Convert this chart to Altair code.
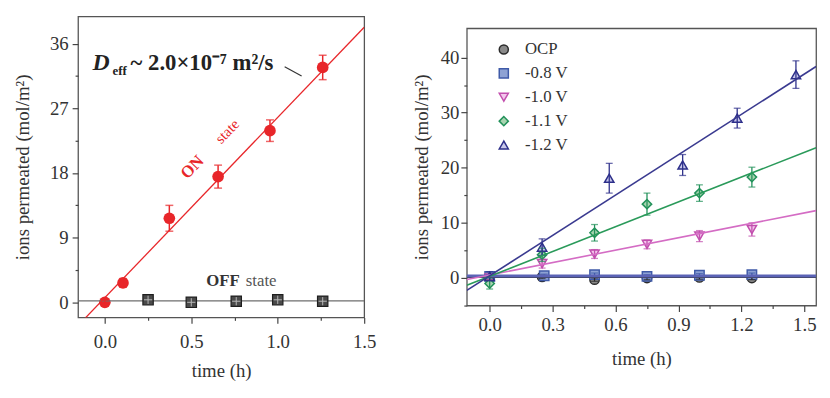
import altair as alt
import pandas as pd

FONT = "Liberation Serif"

# ---------------- left panel data ----------------
on_t = [0.0, 0.105, 0.373, 0.655, 0.955, 1.26]
on_y = [0.0, 2.7, 11.7, 17.5, 23.9, 32.7]
on_err = [0.3, 0.6, 1.8, 1.6, 1.5, 1.7]
off_t = [0.25, 0.5, 0.76, 1.0, 1.26]
off_y = [0.35, 0.0, 0.15, 0.35, 0.15]
on_fit = (25.1, 0.65)     # slope, intercept
off_fit = (0.0, 0.2)
left_x_domain = [-0.155, 1.5]
left_y_domain = [-2.1, 39.8]
left_x_step = 0.5
left_x_ticks = [0.0, 0.25, 0.5, 0.75, 1.0, 1.25, 1.5]
left_y_step = 9
left_y_ticks = [0, 4.5, 9, 13.5, 18, 22.5, 27, 31.5, 36]

# ---------------- right panel data ----------------
series = ["OCP", "-0.8 V", "-1.0 V", "-1.1 V", "-1.2 V"]
s_t = {
    "OCP": [0.0, 0.25, 0.5, 0.75, 1.0, 1.25],
    "-0.8 V": [0.0, 0.26, 0.5, 0.75, 1.0, 1.25],
    "-1.0 V": [0.0, 0.25, 0.5, 0.75, 1.0, 1.25],
    "-1.1 V": [0.0, 0.25, 0.5, 0.75, 1.0, 1.25],
    "-1.2 V": [0.0, 0.25, 0.57, 0.92, 1.18, 1.46],
}
s_y = {
    "OCP": [0.0, 0.2, -0.3, 0.0, 0.1, 0.0],
    "-0.8 V": [0.3, 0.4, 0.6, 0.3, 0.5, 0.6],
    "-1.0 V": [0.0, 2.6, 4.35, 6.1, 7.6, 8.8],
    "-1.1 V": [-1.0, 4.2, 8.2, 13.4, 15.4, 18.3],
    "-1.2 V": [0.3, 5.6, 18.1, 20.5, 29.0, 36.9],
}
s_err = {
    "OCP": [0.3, 0.3, 0.3, 0.3, 0.3, 0.3],
    "-0.8 V": [0.3, 0.3, 0.3, 0.3, 0.3, 0.3],
    "-1.0 V": [0.3, 0.8, 0.8, 0.8, 1.0, 1.2],
    "-1.1 V": [1.0, 1.2, 1.5, 2.0, 1.5, 1.8],
    "-1.2 V": [0.8, 1.5, 2.7, 1.9, 1.8, 2.5],
}
s_fit = {
    "OCP": (0.0, 0.2),
    "-0.8 V": (0.0, 0.35),
    "-1.0 V": (7.5, 0.55),
    "-1.1 V": (15.0, 0.3),
    "-1.2 V": (24.4, 0.4),
}
s_shape = ["circle", "square", "triangle-down", "diamond", "triangle-up"]
s_fill = ["#8a8a8a", "#8ea2d4", "#f3c6ec", "#a8d4b0", "#c8c8ea"]
s_stroke = ["#2b2b2b", "#3f5aa8", "#c24fae", "#22915a", "#2d2f8a"]
s_line = ["#333333", "#5b63b6", "#d46cc4", "#2a9a5a", "#3a3a90"]
s_line_w = [2, 3, 1.6, 1.6, 1.6]
right_x_domain = [-0.109, 1.556]
right_y_domain = [-5, 45.3]
right_x_step = 0.3
right_x_ticks = [0.0, 0.15, 0.3, 0.45, 0.6, 0.75, 0.9, 1.05, 1.2, 1.35, 1.5]
right_y_step = 10
right_y_ticks = [-5.0, 0.0, 5.0, 10.0, 15.0, 20.0, 25.0, 30.0, 35.0, 40.0]

RED = "#e8262a"
Y_TITLE = "ions permeated (mol/m²)"
X_TITLE = "time (h)"


def axis(values, step, fmt, title, label_pad, title_pad):
    test = f"abs(datum.value/{step} - round(datum.value/{step})) < 0.000001"
    return alt.Axis(
        values=values,
        labelExpr=f"({test}) ? format(datum.value, '{fmt}') : ''",
        tickSize={"condition": {"test": test, "value": 6}, "value": 3},
        title=title,
        grid=False,
        domain=False,
        labelFlush=False,
        labelOverlap=False,
        labelPadding=label_pad,
        titlePadding=title_pad,
        labelFont=FONT, titleFont=FONT, labelFontSize=19, titleFontSize=19,
        labelColor="#333", titleColor="#333", tickColor="#444", tickWidth=1.2,
        titleFontWeight="normal",
    )


# ---------------- left panel ----------------
on_df = pd.DataFrame({"t": on_t, "y": on_y, "e": on_err})
on_df["lo"] = on_df["y"] - on_df["e"]
on_df["hi"] = on_df["y"] + on_df["e"]
off_df = pd.DataFrame({"t": off_t, "y": off_y})
fitL = pd.DataFrame({"t": left_x_domain})

lx = alt.Scale(domain=left_x_domain, nice=False, zero=False)
ly = alt.Scale(domain=left_y_domain, nice=False, zero=False)
lx_axis = axis(left_x_ticks, left_x_step, ".1f", X_TITLE, 10, 10)
ly_axis = axis(left_y_ticks, left_y_step, "d", Y_TITLE, 4, 17)


def LX(f="t"):
    return alt.X(f"{f}:Q", scale=lx, axis=lx_axis)


def LY(f="y"):
    return alt.Y(f"{f}:Q", scale=ly, axis=ly_axis)


on_pts = alt.Chart(on_df).mark_point(shape="circle", filled=True, size=140, color=RED, opacity=1).encode(
    x=LX(), y=LY())
on_rule = alt.Chart(on_df).mark_rule(color=RED, strokeWidth=1.5).encode(
    x=LX(), y=LY("lo"), y2="hi:Q")
on_cap_lo = alt.Chart(on_df).mark_tick(orient="horizontal", size=8, thickness=1.5, color=RED).encode(
    x=LX(), y=LY("lo"))
on_cap_hi = alt.Chart(on_df).mark_tick(orient="horizontal", size=8, thickness=1.5, color=RED).encode(
    x=LX(), y=LY("hi"))
on_line = alt.Chart(fitL).mark_line(color=RED, strokeWidth=1.3, clip=True).transform_calculate(
    y=f"{on_fit[0]}*datum.t+{on_fit[1]}").encode(x=LX(), y=LY())
off_line = alt.Chart(fitL).mark_line(color="#6e6e6e", strokeWidth=1.5, clip=True).transform_calculate(
    y=f"{off_fit[0]}*datum.t+{off_fit[1]}").encode(x=LX(), y=LY())
off_pts = alt.Chart(off_df).mark_point(shape="square", filled=True, size=110, fill="#4a4a4a",
                                       stroke="#1e1e1e", strokeWidth=1.2, opacity=1).encode(x=LX(), y=LY())
off_cross = alt.Chart(off_df).mark_point(shape="M-1,0H1M0,-1V1", filled=False, size=70,
                                         stroke="#b8b8b8", strokeWidth=1, opacity=1).encode(x=LX(), y=LY())

# annotations (data coordinates)
ann_deff = pd.DataFrame({"t": [-0.071], "y": [32.4]})
ann_eff = pd.DataFrame({"t": [0.044], "y": [31.7]})
ann_rest = pd.DataFrame({"t": [0.149], "y": [32.4]})
lead = pd.DataFrame({"t": [1.04], "y": [32.8], "t2": [1.138], "y2": [31.5]})
ann_on = pd.DataFrame({"t": [0.506], "y": [18.8]})
ann_state = pd.DataFrame({"t": [0.707], "y": [23.8]})
ann_off = pd.DataFrame({"t": [0.78], "y": [3.0]})
ann_offs = pd.DataFrame({"t": [0.815], "y": [3.0]})


def txt(df, text, **kw):
    return alt.Chart(df).mark_text(text=text, font=FONT, **kw).encode(x=LX(), y=LY())


t1 = txt(ann_deff, "D", fontSize=24, fontWeight="bold", fontStyle="italic", align="left",
         baseline="alphabetic", color="#222")
t2 = txt(ann_eff, "eff", fontSize=13, fontWeight="bold", align="left", baseline="alphabetic", color="#222")
t3 = txt(ann_rest, "~ 2.0×10⁻⁷ m²/s", fontSize=23, fontWeight="bold", align="left",
         baseline="alphabetic", color="#222")
lead_rule = alt.Chart(lead).mark_rule(color="#333", strokeWidth=1.2).encode(
    x=LX(), y=LY(), x2="t2:Q", y2="y2:Q")
t4 = txt(ann_on, "ON", fontSize=17, fontWeight="bold", angle=314, align="center", baseline="middle", color=RED)
t5 = txt(ann_state, "state", fontSize=15, angle=314, align="center", baseline="middle", color=RED)
t6 = txt(ann_off, "OFF", fontSize=17, fontWeight="bold", align="right", baseline="middle", color="#333")
t7 = txt(ann_offs, "state", fontSize=17, align="left", baseline="middle", color="#555")

left = alt.layer(
    on_pts, off_line, on_rule, on_cap_lo, on_cap_hi, off_pts, off_cross, on_line,
    t1, t2, t3, lead_rule, t4, t5, t6, t7,
).properties(width=290, height=305)

# ---------------- right panel ----------------
rows = []
for s in series:
    for t, y, e in zip(s_t[s], s_y[s], s_err[s]):
        rows.append({"series": s, "t": t, "y": y, "lo": y - e, "hi": y + e})
rdf = pd.DataFrame(rows)
fit_rows = []
for s in series:
    for x in right_x_domain:
        fit_rows.append({"series": s, "t": x, "slope": s_fit[s][0], "icpt": s_fit[s][1]})
fdf = pd.DataFrame(fit_rows)

rx = alt.Scale(domain=right_x_domain, nice=False, zero=False)
ry = alt.Scale(domain=right_y_domain, nice=False, zero=False)
rx_axis = axis(right_x_ticks, right_x_step, ".1f", X_TITLE, 4, 16)
ry_axis = axis(right_y_ticks, right_y_step, "d", Y_TITLE, 2, 9)


def RX(f="t"):
    return alt.X(f"{f}:Q", scale=rx, axis=rx_axis)


def RY(f="y"):
    return alt.Y(f"{f}:Q", scale=ry, axis=ry_axis)


legend = alt.Legend(
    title=None, orient="none", legendX=423, legendY=25, symbolSize=85, symbolStrokeWidth=1.5,
    labelFont=FONT, labelFontSize=17, labelColor="#333", labelOffset=13, rowPadding=6.2,
)

pts = alt.Chart(rdf).mark_point(filled=True, size=90, strokeWidth=1.5, opacity=1).encode(
    x=RX(), y=RY(),
    shape=alt.Shape("series:N", scale=alt.Scale(domain=series, range=s_shape), legend=legend),
    fill=alt.Fill("series:N", scale=alt.Scale(domain=series, range=s_fill), legend=legend),
    stroke=alt.Stroke("series:N", scale=alt.Scale(domain=series, range=s_stroke), legend=legend),
)

err_layers = []
line_layers = []
for i, s in enumerate(series):
    sub = rdf[rdf["series"] == s]
    col = s_stroke[i]
    err_layers.append(alt.Chart(sub).mark_rule(color=col, strokeWidth=1.3).encode(
        x=RX(), y=RY("lo"), y2="hi:Q"))
    err_layers.append(alt.Chart(sub).mark_tick(orient="horizontal", size=7, thickness=1.3, color=col).encode(
        x=RX(), y=RY("lo")))
    err_layers.append(alt.Chart(sub).mark_tick(orient="horizontal", size=7, thickness=1.3, color=col).encode(
        x=RX(), y=RY("hi")))
    fsub = fdf[fdf["series"] == s]
    line_layers.append(alt.Chart(fsub).mark_line(color=s_line[i], strokeWidth=s_line_w[i], clip=True)
                       .transform_calculate(y="datum.slope*datum.t+datum.icpt")
                       .encode(x=RX(), y=RY()))

right = alt.layer(pts, *err_layers, *line_layers).properties(width=354, height=281)

spacer = alt.Chart(pd.DataFrame({"v": [0]})).mark_point(opacity=0, size=1).encode(
    x=alt.value(1), y=alt.value(0.5)
).properties(width=354, height=1, view=alt.ViewBackground(stroke="transparent"))

right_col = alt.vconcat(spacer, right, spacing=9)

chart = alt.hconcat(left, right_col, spacing=35).configure(
    background="white"
).configure_view(
    stroke="#555", strokeWidth=1.3
)

chart.save("out.html", embed_options={"renderer": "svg", "actions": False})
